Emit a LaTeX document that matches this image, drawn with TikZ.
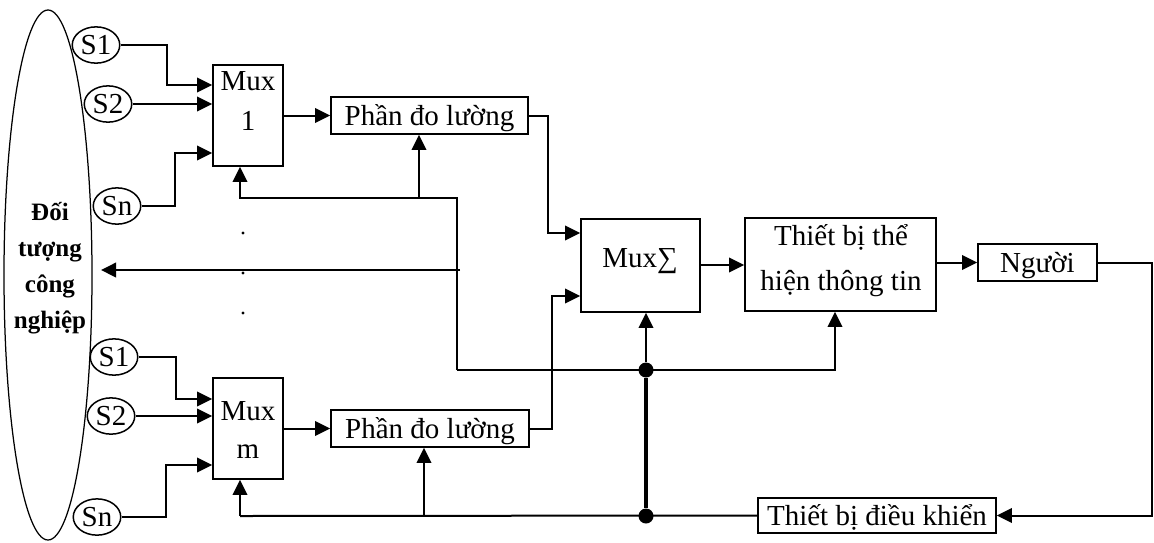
\documentclass[tikz,border=0pt]{standalone}
\usepackage{fontspec}
\setmainfont{Liberation Serif}
\usetikzlibrary{arrows.meta,shapes.geometric}
\begin{document}
\begin{tikzpicture}[x=0.4pt,y=-0.4pt,
  conn/.style={line width=0.8pt},
  arr/.style={conn,-{Triangle[length=6pt,width=5.8pt]}},
  box/.style={draw,line width=0.7pt,inner sep=0pt,text height=7.8pt,text depth=0pt,font=\fontsize{11.6}{14}\selectfont},
  frame/.style={draw,line width=0.7pt,inner sep=0pt},
  txt/.style={inner sep=0pt,anchor=base,font=\fontsize{11.6}{14}\selectfont},
  objtxt/.style={inner sep=0pt,anchor=base,font=\bfseries\fontsize{10}{14}\selectfont},
  sens/.style={draw,ellipse,line width=0.6pt,inner sep=0pt,minimum width=19pt,minimum height=14.5pt,font=\fontsize{11.6}{14}\selectfont},
  junc/.style={circle,fill,inner sep=0pt,minimum size=6pt},
  vdot/.style={circle,fill,inner sep=0pt,minimum size=1.3pt}]

\useasboundingbox (0,0) rectangle (1154,542);

% object ellipse
\node[draw,ellipse,line width=0.5pt,minimum width=35.2pt,minimum height=212pt,inner sep=0pt] (obj) at (48,275) {};
\node[objtxt] (o1) at (50,220) {Đối};
\node[objtxt] (o2) at (50,256) {tượng};
\node[objtxt] (o3) at (50,292) {công};
\node[objtxt] (o4) at (50,328) {nghiệp};

% sensors
\node[sens] (s11) at (96,45) {S1};
\node[sens] (s12) at (108,104) {S2};
\node[sens] (s1n) at (117,206) {Sn};
\node[sens] (s21) at (114,357) {S1};
\node[sens] (s22) at (111,416) {S2};
\node[sens] (s2n) at (97,517) {Sn};

% multiplexers
\node[frame,minimum width=28pt,minimum height=40.4pt] (mux1) at (248,115.5) {};
\node[txt] (mux1a) at (248,90) {Mux};
\node[txt] (mux1b) at (248,130) {1};
\node[frame,minimum width=28pt,minimum height=40.4pt] (muxm) at (248,428.5) {};
\node[txt] (muxma) at (248,420) {Mux};
\node[txt] (muxmb) at (248,458) {m};

% measuring parts
\node[box,minimum width=78.8pt,minimum height=14.8pt] (pd1) at (429.5,115.5) {Phần đo lường};
\node[box,minimum width=79.2pt,minimum height=14.8pt] (pd2) at (430,428.5) {Phần đo lường};

% mux sum
\node[frame,minimum width=47.6pt,minimum height=37.2pt] (msum) at (640.5,265.5) {};
\node[txt] (msumt) at (640,267) {Mux∑};

% display device
\node[frame,minimum width=76.4pt,minimum height=37.2pt] (tb) at (840.5,264.5) {};
\node[txt] (tb1) at (841,245) {Thiết bị thể};
\node[txt] (tb2) at (841,290) {hiện thông tin};

% human
\node[box,minimum width=47.6pt,minimum height=14.8pt] (ng) at (1037.5,262.5) {Người};

% controller
\node[box,minimum width=95.2pt,minimum height=14pt] (dk) at (877,515.5) {Thiết bị điều khiển};

% dots
\node[vdot] (d1) at (243,233) {};
\node[vdot] (d2) at (243,273) {};
\node[vdot] (d3) at (243,313) {};

% junctions
\node[junc] (j1) at (646,370) {};
\node[junc] (j2) at (646,516) {};
\coordinate (c1) at (457,198);
\coordinate (c2) at (457,370);
\coordinate (c3) at (240,516);
\coordinate (c4) at (424,516);
\coordinate (c5) at (460,270);
\coordinate (c6) at (101,270);

% sensor inputs, group 1
\draw[arr] (s11.east) -- (167,45) -- (167,85) -- (mux1.west |- 167,85);
\draw[arr] (s12.east) -- (mux1.west |- s12.east);
\draw[arr] (s1n.east) -- (175,206) -- (175,153) -- (mux1.west |- 175,153);
% sensor inputs, group m
\draw[arr] (s21.east) -- (176,357) -- (176,399) -- (muxm.west |- 176,399);
\draw[arr] (s22.east) -- (muxm.west |- s22.east);
\draw[arr] (s2n.east) -- (166,517) -- (166,465) -- (muxm.west |- 166,465);

% main signal path
\draw[arr] (mux1.east) -- (pd1.west);
\draw[arr] (muxm.east) -- (pd2.west);
\draw[arr] (pd1.east) -- (548,115.5) -- (548,233) -- (msum.west |- 548,233);
\draw[arr] (pd2.east) -- (552,428.5) -- (552,296) -- (msum.west |- 552,296);
\draw[arr] (msum.east |- 0,265) -- (tb.west |- 0,265);
\draw[arr] (tb.east |- ng.west) -- (ng.west);
\draw[arr] (ng.east) -- (1152,262.5) -- (1152,515.5) -- (dk.east);

% control bus, lower
\draw[conn] (dk.west) -- (c3);
\draw[arr] (c3) -- (muxm.south -| c3);
\draw[arr] (c4) -- (pd2.south -| c4);
\draw[line width=1.4pt] (j1) -- (j2);
\draw[arr] (j1) -- (msum.south -| j1);

% control bus, upper
\draw[arr] (c2) -- (835,370) -- (tb.south -| 835,370);
\draw[arr] (c2) -- (c1) -- (240,198) -- (mux1.south -| 240,198);
\draw[arr] (419,198) -- (pd1.south -| 419,198);
\draw[arr] (c5) -- (c6);
\end{tikzpicture}
\end{document}
